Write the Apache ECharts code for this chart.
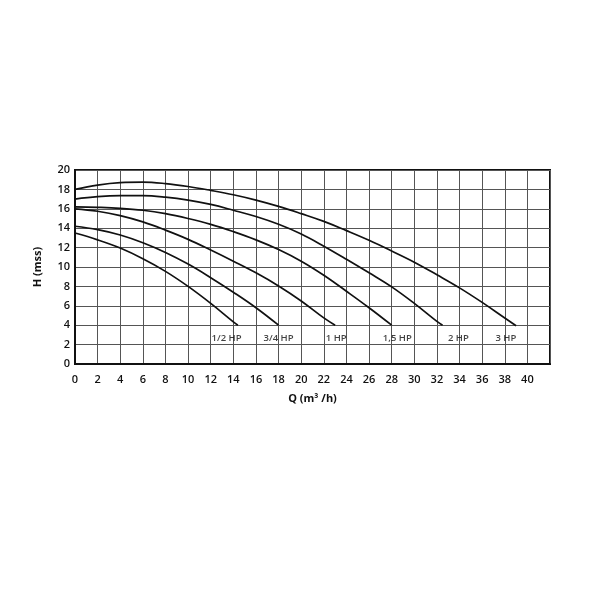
<!DOCTYPE html>
<html>
<head>
<meta charset="utf-8">
<script src="https://cdn.jsdelivr.net/npm/echarts@6/dist/echarts.min.js"></script>
<style>html,body{margin:0;padding:0;background:#fff;}#c{width:604px;height:606px;}</style>
</head>
<body>
<div id="c"></div>
<script>
// Pump curves: [Q (m3/h), H (mss)]
const hp12 = [[0,13.5],[2,12.8],[4,11.95],[6,10.85],[8,9.55],[10,8.0],[12,6.25],[14,4.35],[14.4,4.0]];
const hp34 = [[0,14.2],[2,13.85],[4,13.3],[6,12.5],[8,11.5],[10,10.3],[12,8.9],[14,7.4],[16,5.8],[18,4.0]];
const hp1  = [[0,16.0],[2,15.75],[4,15.3],[6,14.65],[8,13.8],[10,12.85],[12,11.75],[14,10.6],[16,9.4],[18,8.05],[20,6.5],[22,4.75],[23,4.0]];
const hp15 = [[0,16.2],[2,16.15],[4,16.05],[6,15.85],[8,15.5],[10,15.0],[12,14.4],[14,13.65],[16,12.8],[18,11.8],[20,10.6],[22,9.15],[24,7.5],[26,5.8],[28,4.0]];
const hp2  = [[0,17.0],[2,17.25],[4,17.35],[6,17.35],[8,17.2],[10,16.9],[12,16.45],[14,15.85],[16,15.2],[18,14.4],[20,13.4],[22,12.15],[24,10.8],[26,9.4],[28,7.95],[30,6.25],[32,4.4],[32.5,4.0]];
const hp3  = [[0,18.0],[2,18.45],[4,18.7],[6,18.75],[8,18.6],[10,18.3],[12,17.9],[14,17.45],[16,16.9],[18,16.25],[20,15.5],[22,14.7],[24,13.75],[26,12.75],[28,11.65],[30,10.5],[32,9.2],[34,7.85],[36,6.35],[38,4.75],[39,3.95]];
const curveNames = ['1/2 HP','3/4 HP','1 HP','1,5 HP','2 HP','3 HP'];
const curveData = [hp12, hp34, hp1, hp15, hp2, hp3];
// label anchor positions [Q, H]
const labelPos = [[13.4,2.6],[18.0,2.6],[23.1,2.6],[28.5,2.6],[33.9,2.6],[38.1,2.6]];
const xTicks = [0,2,4,6,8,10,12,14,16,18,20,22,24,26,28,30,32,34,36,38,40];
const yTicks = [0,2,4,6,8,10,12,14,16,18,20];

const font = 'Open Sans';
const txt = '#111';
const series = curveData.map((d, i) => ({
  name: curveNames[i], type: 'line', data: d, smooth: 0.4, showSymbol: false,
  lineStyle: { color: '#111', width: 1.7 }, silent: true, z: 3
}));
series.push({
  type: 'scatter', symbolSize: 0, silent: true, z: 4,
  data: labelPos.map((p, i) => ({ value: p, name: curveNames[i] })),
  label: { show: true, position: 'inside', formatter: p => p.name, color: txt,
    fontFamily: font, fontSize: 9.5, fontWeight: 600 }
});

const chart = echarts.init(document.getElementById('c'), null, { renderer: 'canvas' });
chart.setOption({
  animation: false,
  backgroundColor: '#fff',
  grid: { left: 75, right: 54, top: 170, bottom: 242, show: true, borderColor: '#111', borderWidth: 2, containLabel: false },
  xAxis: {
    type: 'value', min: 0, max: 42, interval: 2,
    name: 'Q (m³ /h)', nameLocation: 'middle', nameGap: 29,
    nameTextStyle: { color: txt, fontFamily: font, fontSize: 11, fontWeight: 'bold' },
    axisLine: { show: true, lineStyle: { color: '#111', width: 2 } },
    axisTick: { show: false },
    axisLabel: { color: txt, fontFamily: font, fontSize: 11, fontWeight: 600, margin: 10,
      formatter: v => xTicks.indexOf(v) >= 0 ? String(v) : '' },
    splitLine: { show: true, lineStyle: { color: '#555', width: 1 } }
  },
  yAxis: {
    type: 'value', min: 0, max: 20, interval: 2,
    name: 'H (mss)', nameLocation: 'middle', nameGap: 32, nameRotate: 90,
    nameTextStyle: { color: txt, fontFamily: font, fontSize: 11, fontWeight: 'bold' },
    axisLine: { show: true, lineStyle: { color: '#111', width: 2 } },
    axisTick: { show: false },
    axisLabel: { color: txt, fontFamily: font, fontSize: 11, fontWeight: 600, margin: 5,
      formatter: v => yTicks.indexOf(v) >= 0 ? String(v) : '' },
    splitLine: { show: true, lineStyle: { color: '#555', width: 1 } }
  },
  series: series
});
</script>
</body>
</html>
